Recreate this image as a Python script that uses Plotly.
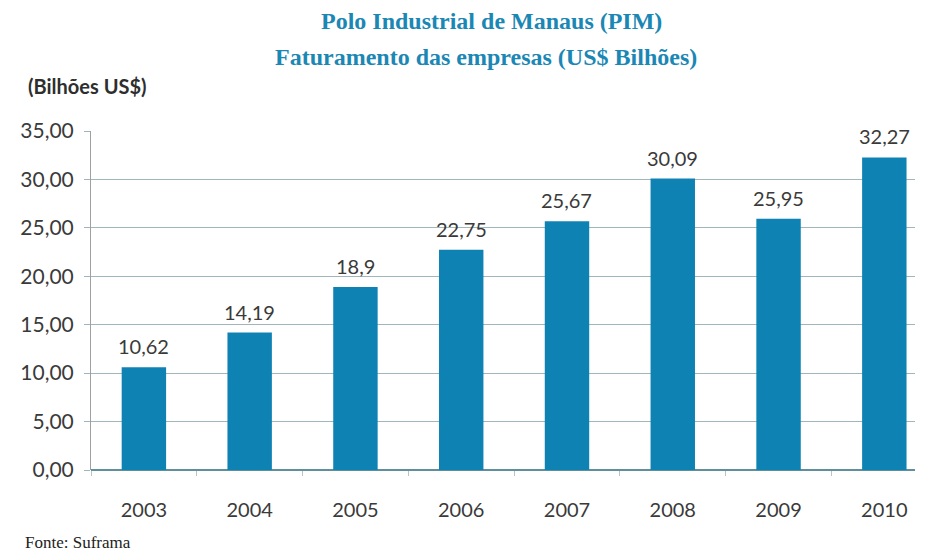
import plotly.graph_objects as go

anos = ["2003", "2004", "2005", "2006", "2007", "2008", "2009", "2010"]
faturamento = [10.62, 14.19, 18.9, 22.75, 25.67, 30.09, 25.95, 32.27]
rotulos = [str(v).replace(".", ",") for v in faturamento]

azul = "#0f82b4"
cinza_txt = "#3a3a3a"

# the page puts the figure 8px in from the top-left corner
OFF = 8
W, H = 934 - OFF, 554 - OFF
L, R, T, B = 89 - OFF, 19, 131 - OFF, 84

fig = go.Figure(go.Bar(
    x=anos, y=faturamento,
    marker=dict(color=azul, line=dict(width=0)), width=0.42,
    cliponaxis=False,
))

# data labels above bars (category index as x)
labels = [
    dict(x=i, y=v, xref="x", yref="y", text=t, showarrow=False,
         yanchor="bottom", yshift=7,
         font=dict(family="Lato", size=20, color=cinza_txt))
    for i, (v, t) in enumerate(zip(faturamento, rotulos))
]


def page(x, y):
    # page pixel -> paper coords
    return (x - OFF - L) / (W - L - R), 1 - (y - OFF - T) / (H - T - B)


extra = []
for txt, x, y, anchor, fnt in [
    ("<b>Polo Industrial de Manaus (PIM)</b>", 490, 21, "center",
     dict(family="Liberation Serif", size=24, color="#1b87b4")),
    ("<b>Faturamento das empresas (US$ Bilhões)</b>", 485, 57, "center",
     dict(family="Liberation Serif", size=24, color="#1b87b4")),
    ("<b>(Bilhões US$)</b>", 24, 86, "left",
     dict(family="Lato", size=20, color="#2e2e2e")),
    ("Fonte: Suframa", 21, 542, "left",
     dict(family="Liberation Serif", size=17, color="#222222")),
]:
    px_, py_ = page(x, y)
    extra.append(dict(text=txt, x=px_, y=py_, xref="paper", yref="paper",
                      xanchor=anchor, yanchor="middle", showarrow=False, font=fnt))

fig.update_layout(
    width=W, height=H,
    margin=dict(l=L, r=R, t=T, b=B),
    paper_bgcolor="white", plot_bgcolor="white",
    separators=",.",
    showlegend=False,
    xaxis=dict(
        type="category", range=[-0.5, 7.29],
        showgrid=False, showline=False,
        ticks="outside", tickson="boundaries", ticklen=5, tickcolor="#b8c4c6",
        ticklabelstandoff=26,
        tickfont=dict(family="Lato", size=20, color=cinza_txt),
    ),
    yaxis=dict(
        range=[0, 35], dtick=5, tickformat=".2f",
        showgrid=True, gridcolor="#9fb6bb", gridwidth=1,
        zeroline=True, zerolinecolor="#5e8f9a", zerolinewidth=1.5,
        showline=True, linecolor="#a0a0a0", linewidth=1,
        ticks="outside", ticklen=6, tickcolor="#9fb6bb",
        ticklabelstandoff=6,
        tickfont=dict(family="Lato", size=21, color=cinza_txt),
    ),
    annotations=labels + extra,
)

fig.write_html("out.html")
